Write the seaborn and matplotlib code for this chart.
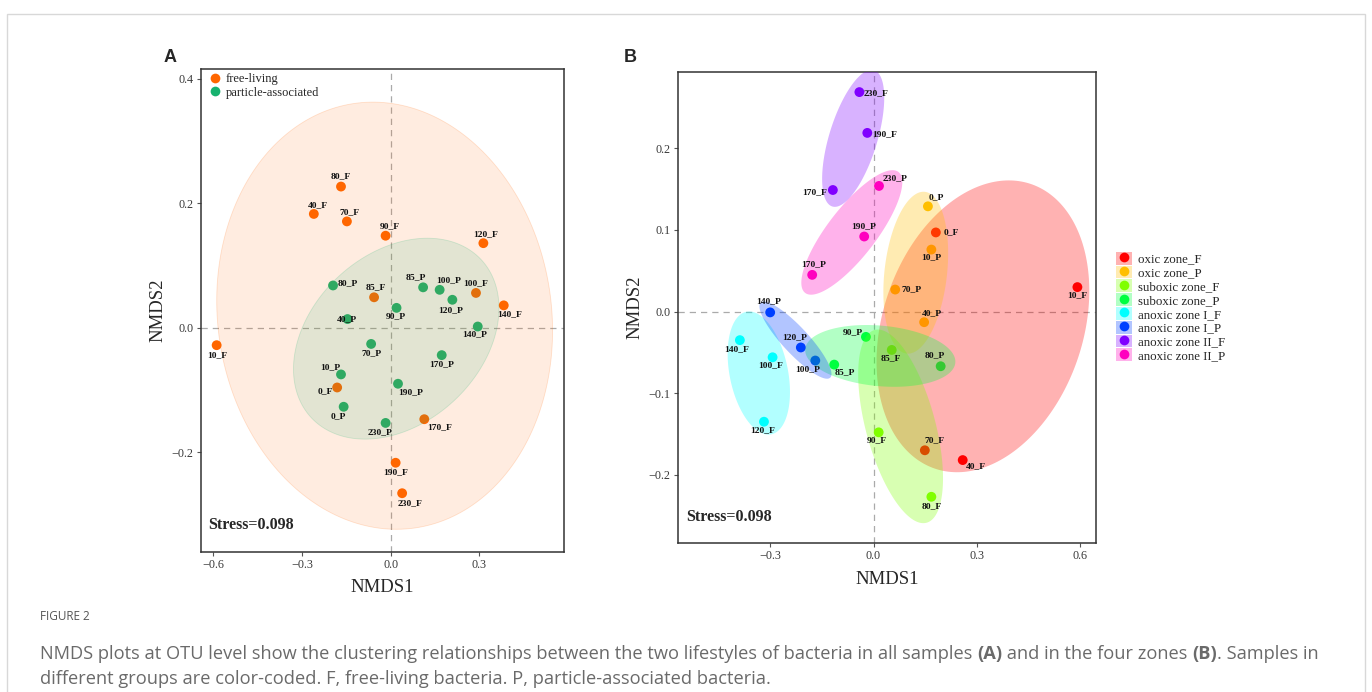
import numpy as np
import pandas as pd
import matplotlib
matplotlib.use("Agg")
import matplotlib.pyplot as plt
from matplotlib.patches import Polygon, Patch, Rectangle
from matplotlib.lines import Line2D
from matplotlib.ticker import FuncFormatter
import seaborn as sns

# ---------------- data ----------------
depths = ["0", "10", "40", "70", "80", "85", "90", "100", "120", "140", "170", "190", "230"]

# Panel A (all samples)
a_f_nmds1 = [-0.181, -0.589, -0.260, -0.148, -0.168, -0.056, -0.017, 0.289, 0.314, 0.383, 0.114, 0.017, 0.039]
a_f_nmds2 = [-0.096, -0.028, 0.183, 0.171, 0.227, 0.049, 0.148, 0.056, 0.136, 0.036, -0.147, -0.217, -0.266]
a_p_nmds1 = [-0.159, -0.168, -0.146, -0.066, -0.195, 0.110, 0.020, 0.166, 0.209, 0.295, 0.173, 0.025, -0.017]
a_p_nmds2 = [-0.127, -0.075, 0.014, -0.026, 0.068, 0.065, 0.032, 0.061, 0.045, 0.002, -0.044, -0.090, -0.153]

# Panel B (four zones)
b_f_nmds1 = [0.181, 0.592, 0.259, 0.149, 0.168, 0.053, 0.015, -0.293, -0.318, -0.388, -0.118, -0.018, -0.041]
b_f_nmds2 = [0.097, 0.030, -0.182, -0.170, -0.227, -0.047, -0.148, -0.056, -0.135, -0.035, 0.149, 0.219, 0.269]
b_p_nmds1 = [0.158, 0.168, 0.147, 0.063, 0.195, -0.114, -0.022, -0.169, -0.211, -0.300, -0.178, -0.027, 0.016]
b_p_nmds2 = [0.129, 0.076, -0.013, 0.027, -0.067, -0.065, -0.031, -0.060, -0.044, -0.001, 0.045, 0.092, 0.154]

depth_zone = ["oxic zone", "oxic zone", "oxic zone", "oxic zone",
              "suboxic zone", "suboxic zone", "suboxic zone",
              "anoxic zone I", "anoxic zone I", "anoxic zone I",
              "anoxic zone II", "anoxic zone II", "anoxic zone II"]

lifestyles = ["free-living", "particle-associated"]
zone_groups = ["oxic zone_F", "oxic zone_P", "suboxic zone_F", "suboxic zone_P",
               "anoxic zone I_F", "anoxic zone I_P", "anoxic zone II_F", "anoxic zone II_P"]
stress_text = "Stress=0.098"

# ---------------- styles ----------------
life_colors = {"free-living": "#FF6600", "particle-associated": "#17B26F"}
zone_colors = dict(zip(zone_groups, ["#FF0000", "#FFBF00", "#80FF00", "#00FF40",
                                     "#00FFFF", "#0040FF", "#8000FF", "#FF00BF"]))

# label offsets in pixels (dx right, dy down)
a_offsets = {
    "0_F": (-12, 4), "10_F": (1, 10), "40_F": (4, -9), "70_F": (3, -9), "80_F": (0, -10),
    "85_F": (2, -10), "90_F": (4, -10), "100_F": (0, -10), "120_F": (2, -9), "140_F": (6, 9),
    "170_F": (15, 8), "190_F": (0, 9), "230_F": (8, 10),
    "0_P": (-5, 9), "10_P": (-11, -7), "40_P": (-1, 0), "70_P": (0, 9), "80_P": (15, -2),
    "85_P": (-7, -10), "90_P": (-1, 8), "100_P": (9, -10), "120_P": (-2, 10), "140_P": (-3, 8),
    "170_P": (0, 9), "190_P": (13, 8), "230_P": (-6, 9)}
b_offsets = {
    "0_F": (15, 0), "10_F": (0, 8), "40_F": (13, 6), "70_F": (10, -10), "80_F": (0, 9),
    "85_F": (-1, 8), "90_F": (-2, 8), "100_F": (-2, 8), "120_F": (-1, 8), "140_F": (-3, 9),
    "170_F": (-18, 2), "190_F": (17, 1), "230_F": (17, 1),
    "0_P": (8, -9), "10_P": (0, 8), "40_P": (8, -9), "70_P": (16, 0), "80_P": (-6, -11),
    "85_P": (11, 8), "90_P": (-13, -5), "100_P": (-8, 9), "120_P": (-6, -10), "140_P": (-2, -11),
    "170_P": (1, -11), "190_P": (-1, -10), "230_P": (16, -8)}

# ---------------- frames ----------------
samples = [d + "_F" for d in depths] + [d + "_P" for d in depths]
df_a = pd.DataFrame({
    "sample": samples,
    "NMDS1": a_f_nmds1 + a_p_nmds1,
    "NMDS2": a_f_nmds2 + a_p_nmds2,
    "group": [lifestyles[0]] * len(depths) + [lifestyles[1]] * len(depths),
})
df_b = pd.DataFrame({
    "sample": samples,
    "NMDS1": b_f_nmds1 + b_p_nmds1,
    "NMDS2": b_f_nmds2 + b_p_nmds2,
    "group": [z + "_F" for z in depth_zone] + [z + "_P" for z in depth_zone],
})

sns.set_style("ticks")
SERIF = ["Liberation Serif", "DejaVu Serif"]
plt.rcParams["font.family"] = SERIF
plt.rcParams["axes.unicode_minus"] = True

W, H = 1372, 692
fig = plt.figure(figsize=(W / 100, H / 100), dpi=100)


def fig_rect(left, top, right, bottom):
    return [left / W, 1 - bottom / H, (right - left) / W, (bottom - top) / H]


axA = fig.add_axes(fig_rect(200.7, 69, 564, 551.7))
axB = fig.add_axes(fig_rect(677.7, 71.7, 1096, 543.3))

axA.set_xlim(-0.643, 0.587)
axA.set_ylim(-0.360, 0.416)
axB.set_xlim(-0.5685, 0.646)
axB.set_ylim(-0.284, 0.294)
axA.set_xticks([-0.6, -0.3, 0.0, 0.3])
axA.set_yticks([-0.2, 0.0, 0.2, 0.4])
axB.set_xticks([-0.3, 0.0, 0.3, 0.6])
axB.set_yticks([-0.2, -0.1, 0.0, 0.1, 0.2])

tick_fmt = FuncFormatter(lambda v, p: f"{v:.1f}".replace("-", "\u2212"))


def style_axes(ax):
    for sp in ax.spines.values():
        sp.set_visible(True)
        sp.set_color("#333333")
        sp.set_linewidth(1.1)
    ax.tick_params(axis="both", length=3, width=0.8, color="#555555",
                   labelsize=8.7, labelcolor="#3a3a3a", pad=2)
    ax.xaxis.set_major_formatter(tick_fmt)
    ax.yaxis.set_major_formatter(tick_fmt)
    ax.axhline(0, color="#AAAAAA", lw=0.9, ls=(0, (5, 4)), zorder=1)
    ax.axvline(0, color="#AAAAAA", lw=0.9, ls=(0, (5, 4)), zorder=1)
    ax.text(0.02, 0.055, stress_text, transform=ax.transAxes, fontsize=11.5,
            fontweight="bold", ha="left", va="center", zorder=6)


style_axes(axA)
style_axes(axB)

# ---------------- points ----------------
sns.scatterplot(data=df_a, x="NMDS1", y="NMDS2", hue="group", palette=life_colors,
                hue_order=lifestyles, s=50, linewidth=0, ax=axA, legend=False, zorder=2)
sns.scatterplot(data=df_b, x="NMDS1", y="NMDS2", hue="group", palette=zone_colors,
                hue_order=zone_groups, s=50, linewidth=0, ax=axB, legend=False, zorder=2)
for ax in (axA, axB):
    ax.set_xlabel("NMDS1", fontsize=13.5, labelpad=6)
    ax.set_ylabel("NMDS2", fontsize=13.5, labelpad=4)


# ---------------- ellipses A (normal-theory confidence ellipse) ----------------
def conf_ellipse(x, y, k=2.15, n=240):
    xy = np.column_stack([x, y])
    mu = xy.mean(axis=0)
    C = np.cov(xy.T)
    L = np.linalg.cholesky(C)
    t = np.linspace(0, 2 * np.pi, n)
    circ = np.vstack([np.cos(t), np.sin(t)])
    return (mu[:, None] + k * L @ circ).T


for g in lifestyles:
    sub = df_a[df_a["group"] == g]
    poly = conf_ellipse(sub["NMDS1"].values, sub["NMDS2"].values)
    col = life_colors[g]
    axA.add_patch(Polygon(poly, closed=True, facecolor=matplotlib.colors.to_rgba(col, 0.12),
                          edgecolor=matplotlib.colors.to_rgba(col, 0.18), lw=0.6, zorder=3))


# ---------------- ellipses B (minimum enclosing ellipse + margin, in screen space) ----------------
def mvee(P, tol=1e-9, max_iter=20000):
    N, d = P.shape
    Q = np.vstack([P.T, np.ones(N)])
    u = np.ones(N) / N
    for _ in range(max_iter):
        X = Q @ np.diag(u) @ Q.T
        M = np.einsum("ij,ji->i", Q.T @ np.linalg.inv(X), Q)
        j = np.argmax(M)
        mx = M[j]
        step = (mx - d - 1) / ((d + 1) * (mx - 1))
        new_u = (1 - step) * u
        new_u[j] += step
        err = np.linalg.norm(new_u - u)
        u = new_u
        if err < tol:
            break
    c = P.T @ u
    A = np.linalg.inv(P.T @ np.diag(u) @ P - np.outer(c, c)) / d
    return A, c


margin_px = 12
for g in zone_groups:
    sub = df_b[df_b["group"] == g]
    pts = axB.transData.transform(np.column_stack([sub["NMDS1"].values, sub["NMDS2"].values]))
    A, c = mvee(pts)
    vals, vecs = np.linalg.eigh(A)
    semi = 1 / np.sqrt(vals) + margin_px
    t = np.linspace(0, 2 * np.pi, 240)
    ell = c[:, None] + vecs @ np.vstack([semi[0] * np.cos(t), semi[1] * np.sin(t)])
    poly = axB.transData.inverted().transform(ell.T)
    axB.add_patch(Polygon(poly, closed=True, facecolor=matplotlib.colors.to_rgba(zone_colors[g], 0.3),
                          edgecolor="none", zorder=3))


# ---------------- labels ----------------
def add_labels(ax, df, offsets):
    for _, r in df.iterrows():
        dx, dy = offsets[r["sample"]]
        ax.annotate(r["sample"], (r["NMDS1"], r["NMDS2"]), xytext=(dx, -dy),
                    textcoords="offset pixels", ha="center", va="center",
                    fontsize=6.8, fontweight="bold", color="#111111", zorder=5)


add_labels(axA, df_a, a_offsets)
add_labels(axB, df_b, b_offsets)

# ---------------- legends ----------------
hA = [Line2D([0], [0], marker="o", ls="", markersize=7, markerfacecolor=life_colors[g],
             markeredgewidth=0) for g in lifestyles]
axA.legend(hA, lifestyles, loc="upper left", bbox_to_anchor=(-0.005, 1.012), frameon=False,
           fontsize=9, handlelength=1.0, handletextpad=0.35, labelspacing=0.12, borderpad=0.3)

hB = [(Patch(facecolor=matplotlib.colors.to_rgba(zone_colors[g], 0.3), edgecolor="none"),
       Line2D([0], [0], marker="o", ls="", markersize=7, markerfacecolor=zone_colors[g],
              markeredgewidth=0)) for g in zone_groups]
fig.legend(hB, zone_groups, loc="center left", bbox_to_anchor=(1107 / W, 1 - 307 / H), frameon=False,
           fontsize=9.3, handlelength=1.2, handleheight=1.15, handletextpad=0.5,
           labelspacing=0.0, borderpad=0.2)

# ---------------- panel letters ----------------
fig.text(170 / W, 1 - 57 / H, "A", fontsize=13, fontweight="bold", family=["Liberation Sans"],
         ha="center", va="center")
fig.text(630 / W, 1 - 57 / H, "B", fontsize=13, fontweight="bold", family=["Liberation Sans"],
         ha="center", va="center")

# ---------------- border & caption ----------------
fig.patches.append(Rectangle((7 / W, -0.01), (1365 - 7) / W, 1 - 14 / H + 0.01, transform=fig.transFigure,
                             fill=False, edgecolor="#D8D8D8", lw=1.0))

CAP_FONT = ["Open Sans", "DejaVu Sans"]
cap_color = "#6A6A6A"
fig.text(40 / W, 1 - 617 / H, "FIGURE 2", fontsize=8.5, color="#555555", family=CAP_FONT,
         ha="left", va="center")

renderer = fig.canvas.get_renderer()


def rich_line(x_px, y_px, segments, size, target_width=None):
    def place(sz):
        x = x_px
        objs = []
        for txt, bold in segments:
            t = fig.text(x / W, 1 - y_px / H, txt, fontsize=sz, color=cap_color, family=CAP_FONT,
                         fontweight="bold" if bold else "normal", ha="left", va="center")
            bb = t.get_window_extent(renderer)
            x += bb.width
            objs.append(t)
        return x - x_px, objs

    w, objs = place(size)
    if target_width is not None:
        for o in objs:
            o.remove()
        size = size * target_width / w
        w, objs = place(size)
    return size


line1 = [("NMDS plots at OTU level show the clustering relationships between the two lifestyles of bacteria in all samples ", False),
         ("(A)", True), (" and in the four zones ", False), ("(B)", True), (". Samples in", False)]
sz = rich_line(40, 654, line1, 11, target_width=1287)
line2 = [("different groups are color-coded. F, free-living bacteria. P, particle-associated bacteria.", False)]
rich_line(40, 679, line2, sz)

fig.savefig("out.png", dpi=100)
